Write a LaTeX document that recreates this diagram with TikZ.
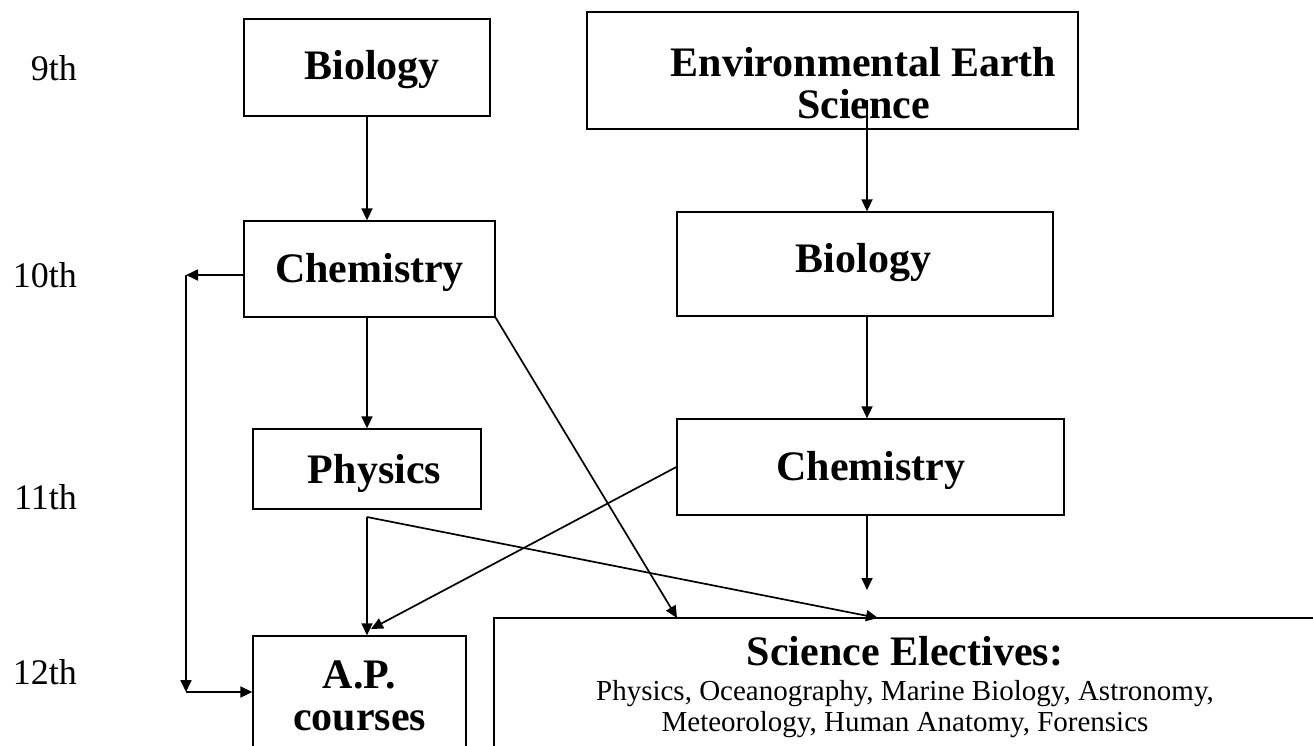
\documentclass[tikz,border=0pt]{standalone}
\usepackage{fontspec}
\setmainfont{Liberation Serif}
\usetikzlibrary{arrows.meta}
\newcommand\placetext[3]{\raisebox{0pt}[0pt][0pt]{\makebox[0pt]{\hspace*{#1}\raisebox{#2}{#3}}}}
\begin{document}
\begin{tikzpicture}[x=1pt,y=-1pt,
  box/.style={draw=black, line width=1.3pt, inner sep=0pt, font=\fontsize{42}{42}\selectfont\bfseries},
  arr/.style={line width=1.7pt, -{Triangle[length=12pt,width=11pt]}},
  grade/.style={anchor=base east, inner sep=0pt, font=\fontsize{36}{36}\selectfont}]
\useasboundingbox (0,0) rectangle (1313,745);
\clip (0,0) rectangle (1313,745);

% grade labels
\node[grade] (g9)  at (77,80)  {9th};
\node[grade] (g10) at (77,287) {10th};
\node[grade] (g11) at (77,509) {11th};
\node[grade] (g12) at (77,684) {12th};

% left column
\node[box, minimum width=246pt, minimum height=97pt] (bio1) at (367,67.5) {\placetext{10pt}{-11.5pt}{Biology}};
\node[box, minimum width=251pt, minimum height=96pt] (chem1) at (369.5,269) {\placetext{0pt}{-13pt}{Chemistry}};
\node[box, minimum width=228pt, minimum height=80pt] (phys) at (367,469) {\placetext{15pt}{-14pt}{Physics}};
\node[box, minimum width=213pt, minimum height=140pt] (ap) at (359.5,706) {\placetext{0pt}{18pt}{\begin{tabular}[t]{@{}c@{}}A.P.\\courses\end{tabular}}};

% right column
\node[box, minimum width=491pt, minimum height=117pt] (env) at (832.5,70.5) {\placetext{62pt}{-5.5pt}{\begin{tabular}[t]{@{}c@{}}Environmental Earth\\Science\end{tabular}}};
\node[box, minimum width=376pt, minimum height=104pt] (bio2) at (865,264) {\placetext{-3pt}{-8pt}{Biology}};
\node[box, minimum width=387pt, minimum height=96pt] (chem2) at (870.5,467) {\placetext{1pt}{-13pt}{Chemistry}};

% electives
\node[box, minimum width=900pt, minimum height=170pt] (elect) at (944,703) {\placetext{-78pt}{38pt}{\fontsize{29}{30}\selectfont\mdseries\begin{tabular}[t]{@{}c@{}}{\fontsize{42}{42}\selectfont\bfseries Science Electives:}\\[5pt]Physics, Oceanography, Marine Biology, Astronomy,\\[1pt]Meteorology, Human Anatomy, Forensics\end{tabular}}};

% helper points
\coordinate (L1) at (186,275);
\coordinate (L2) at (186,692);
\coordinate (J)  at (367,517);
\coordinate (E1) at (677,618);
\coordinate (E2) at (878,618);
\coordinate (A2) at (371,629);
\coordinate (S1) at (867,100);
\coordinate (F)  at (867,590);

% connectors
\draw[arr] (bio1.south) -- (bio1.south |- chem1.north);
\draw[arr] (phys.north |- chem1.south) -- (phys.north);
\draw[arr] (chem1.west |- L1) -- (L1);
\draw[arr] (L1) -- (L2);
\draw[arr] (L2) -- (L2 -| ap.west);
\draw[arr] (J) -- (J |- ap.north);
\draw[arr] (J) -- (E2);
\draw[arr] (chem1.south east) -- (E1);
\draw[arr] (chem2.west) -- (A2);
\draw[arr] (S1) -- (S1 |- bio2.north);
\draw[arr] (bio2.south -| S1) -- (chem2.north -| S1);
\draw[arr] (chem2.south -| F) -- (F);
\end{tikzpicture}
\end{document}
